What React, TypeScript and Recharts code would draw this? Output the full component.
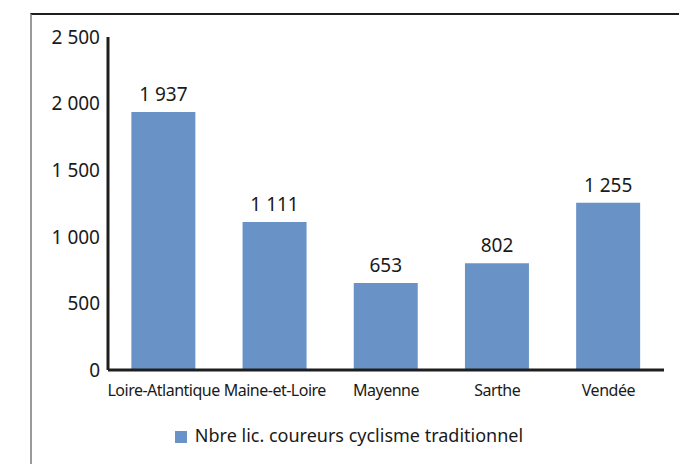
import React from 'react';
import { BarChart, Bar, XAxis, YAxis, Legend, LabelList } from 'recharts';

const departements = ['Loire-Atlantique', 'Maine-et-Loire', 'Mayenne', 'Sarthe', 'Vendée'];
const licencies = [1937, 1111, 653, 802, 1255];
const yTicks = [0, 500, 1000, 1500, 2000, 2500];

const fmt = (v: number) => String(v).replace(/\B(?=(\d{3})+(?!\d))/g, ' ');

const data = departements.map((name, i) => ({
  name,
  value: licencies[i],
  label: fmt(licencies[i]),
}));

const FONT = '"Noto Sans", "DejaVu Sans", sans-serif';
const TEXT = '#1a1a1a';
const BAR = '#6993c7';

const App: React.FC = () => {
  return (
    <div
      style={{
        position: 'relative',
        width: 687,
        height: 464,
        marginLeft: -8,
        marginTop: -8,
        overflow: 'hidden',
        fontFamily: FONT,
      }}
    >
      <div
        style={{
          position: 'absolute',
          left: 30,
          top: 13,
          width: 700,
          height: 500,
          borderTop: '2px solid #1e1e1e',
          borderLeft: '2px solid #9a9a9a',
        }}
      />
      <BarChart
        width={687}
        height={464}
        data={data}
        margin={{ top: 37, right: 23, bottom: 15, left: 0 }}
        barCategoryGap="21%"
      >
        <XAxis
          dataKey="name"
          height={53}
          tickLine={false}
          tickMargin={9}
          axisLine={{ stroke: '#1e1e1e', strokeWidth: 3 }}
          tick={{ fill: TEXT, fontSize: 16, fontFamily: FONT, letterSpacing: -0.5 }}
          interval={0}
        />
        <YAxis
          width={108}
          domain={[0, 2500]}
          ticks={yTicks}
          tickFormatter={fmt}
          tickLine={false}
          axisLine={{ stroke: '#1e1e1e', strokeWidth: 3 }}
          tick={{ fill: TEXT, fontSize: 19, fontFamily: FONT }}
        />
        <Legend
          verticalAlign="bottom"
          height={26}
          iconType="square"
          iconSize={12}
          wrapperStyle={{ fontSize: 18, fontFamily: FONT, left: 22 }}
          formatter={(value) => (
            <span style={{ color: TEXT, marginLeft: 4 }}>{value}</span>
          )}
        />
        <Bar
          dataKey="value"
          name="Nbre lic. coureurs cyclisme traditionnel"
          fill={BAR}
          isAnimationActive={false}
        >
          <LabelList
            dataKey="label"
            position="top"
            offset={11}
            fill={TEXT}
            fontSize={19}
            fontFamily={FONT}
          />
        </Bar>
      </BarChart>
    </div>
  );
};

export default App;
